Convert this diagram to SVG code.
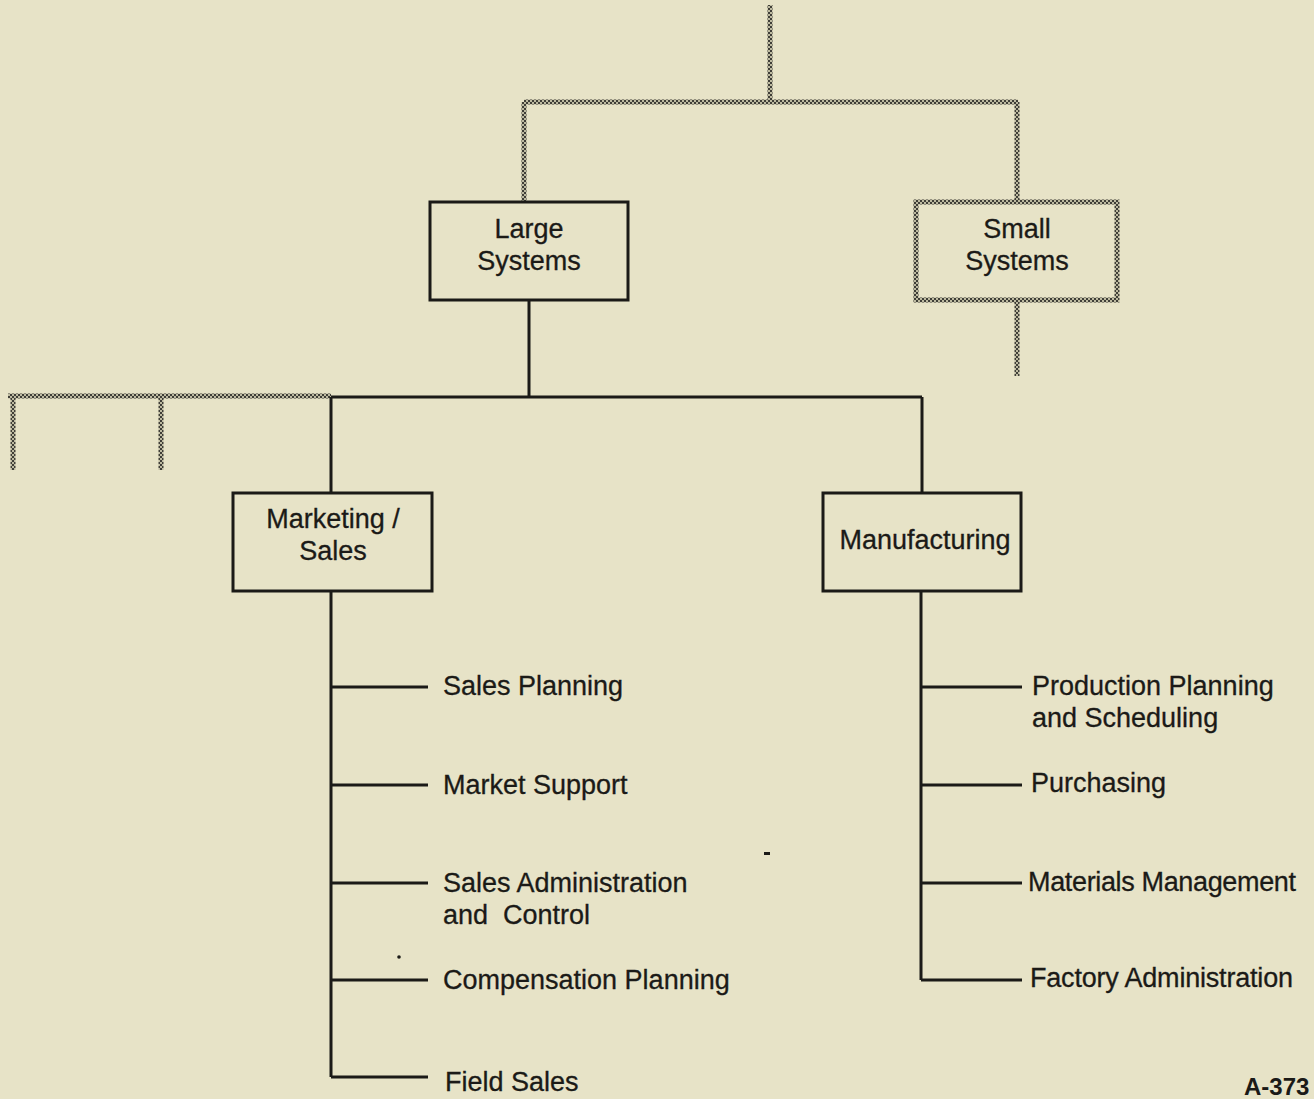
<svg xmlns="http://www.w3.org/2000/svg" width="1314" height="1099" viewBox="0 0 1314 1099">
  <defs>
    <!-- halftone checker used for the grey (inactive) branches -->
    <pattern id="checker" width="4" height="4" patternUnits="userSpaceOnUse">
      <rect width="4" height="4" fill="#bdbaa0"/>
      <rect x="0" y="0" width="2" height="2" fill="#3f3e37"/>
      <rect x="2" y="2" width="2" height="2" fill="#3f3e37"/>
    </pattern>
  </defs>
  <style>
    .bg { fill: #e7e3c7; }
    .box { fill: none; stroke: #1b1a17; stroke-width: 3; }
    .gbox { fill: none; stroke: url(#checker); stroke-width: 5; }
    .wire { fill: none; stroke: #1b1a17; stroke-width: 3; }
    .gwire { fill: none; stroke: url(#checker); stroke-width: 5; }
    .lbl { font-family: "Liberation Sans", Arial, Helvetica, sans-serif; font-size: 27px; fill: #1b1a17; stroke: #1b1a17; stroke-width: 0.3; }
    .mid { text-anchor: middle; }
    .tag { font-family: "Liberation Sans", Arial, sans-serif; font-size: 24px; font-weight: bold; fill: #1b1a17; }
  </style>

  <rect class="bg" x="0" y="0" width="1314" height="1099"/>

  <g id="connectors">
    <!-- grey upper tree -->
    <path class="gwire" d="M770 5 V102 M524 102 H1018 M524 102 V201 M1017 102 V201 M1017 302 V376"/>
    <!-- grey sibling stubs on the left -->
    <path class="gwire" d="M8 396 H331 M13 396 V470 M161 396 V470"/>
    <!-- Large Systems to its two departments -->
    <path class="wire" d="M529 300 V397 M331 397 H922 M331 397 V493 M922 397 V493"/>
    <!-- Marketing / Sales functions -->
    <path class="wire" d="M331 591 V1077 M331 687 H428 M331 785 H428 M331 883 H428 M331 980 H428 M331 1077 H428"/>
    <!-- Manufacturing functions -->
    <path class="wire" d="M921 591 V980 M921 687 H1022 M921 785 H1022 M921 883 H1022 M921 980 H1022"/>
  </g>

  <g id="node-large-systems">
    <rect class="box" x="430" y="202" width="198" height="98"/>
    <text class="lbl mid" x="529" y="238">Large</text>
    <text class="lbl mid" x="529" y="270">Systems</text>
  </g>

  <g id="node-small-systems">
    <rect class="gbox" x="916" y="202" width="201" height="98"/>
    <text class="lbl mid" x="1017" y="238">Small</text>
    <text class="lbl mid" x="1017" y="270">Systems</text>
  </g>

  <g id="node-marketing-sales">
    <rect class="box" x="233" y="493" width="199" height="98"/>
    <text class="lbl mid" x="333" y="528">Marketing /</text>
    <text class="lbl mid" x="333" y="560">Sales</text>
  </g>

  <g id="node-manufacturing">
    <rect class="box" x="823" y="493" width="198" height="98"/>
    <text class="lbl mid" x="925" y="549">Manufacturing</text>
  </g>

  <g id="node-sales-planning"><text class="lbl" x="443" y="695">Sales Planning</text></g>
  <g id="node-market-support"><text class="lbl" x="443" y="794">Market Support</text></g>
  <g id="node-sales-admin">
    <text class="lbl" x="443" y="892">Sales Administration</text>
    <text class="lbl" x="443" y="924" xml:space="preserve">and  Control</text>
  </g>
  <g id="node-compensation"><text class="lbl" x="443" y="989">Compensation Planning</text></g>
  <g id="node-field-sales"><text class="lbl" x="445" y="1091">Field Sales</text></g>

  <g id="node-production-planning">
    <text class="lbl" x="1032" y="695">Production Planning</text>
    <text class="lbl" x="1032" y="727">and Scheduling</text>
  </g>
  <g id="node-purchasing"><text class="lbl" x="1031" y="792">Purchasing</text></g>
  <g id="node-materials"><text class="lbl" x="1028" y="891" textLength="268">Materials Management</text></g>
  <g id="node-factory-admin"><text class="lbl" x="1030" y="987" textLength="263">Factory Administration</text></g>

  <!-- page reference in the bottom corner -->
  <text class="tag" x="1244" y="1095">A-373</text>

  <!-- specks on the sheet -->
  <circle cx="399" cy="957" r="1.8" fill="#1b1a17"/>
  <rect x="764" y="852" width="6" height="3" fill="#1b1a17"/>
</svg>
